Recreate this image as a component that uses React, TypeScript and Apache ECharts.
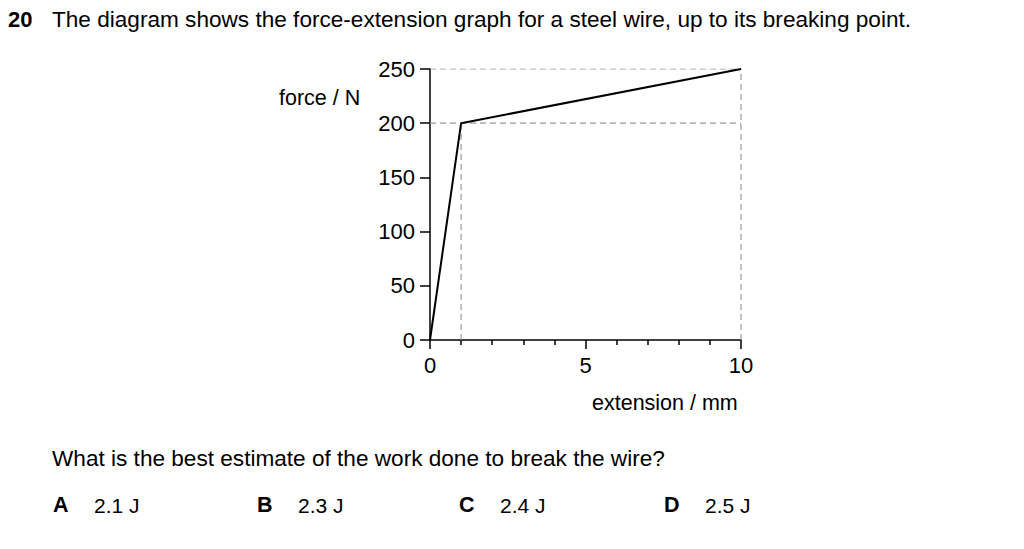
import React, { useEffect, useRef } from "react";
import * as echarts from "echarts";

const extension = [0, 1, 10];
const force = [0, 200, 250];
const guideH250 = [[0, 250], [10, 250]];
const guideH200 = [[0, 200], [10, 200]];
const guideV1 = [[1, 0], [1, 200]];
const guideV10 = [[10, 0], [10, 250]];
const xTicks = [0, 5, 10];
const yTicks = [0, 50, 100, 150, 200, 250];

const title = "The diagram shows the force-extension graph for a steel wire, up to its breaking point.";
const question = "What is the best estimate of the work done to break the wire?";
const optionLetters = ["A", "B", "C", "D"];
const optionValues = ["2.1 J", "2.3 J", "2.4 J", "2.5 J"];

const FONT = "'Liberation Sans', Arial, Helvetica, sans-serif";

export default function App() {
  const ref = useRef<HTMLDivElement>(null);
  useEffect(() => {
    if (!ref.current) return;
    const chart = echarts.init(ref.current, null, { renderer: "svg" });
    const dashed = {
      type: "line",
      showSymbol: false,
      symbol: "none",
      silent: true,
      lineStyle: { color: "#9a9a9a", width: 1.2, type: [6, 4] },
      z: 1,
    };
    const txt = (x: number, y: number, text: string, size: number, bold = false) => ({
      type: "text",
      x,
      y,
      style: {
        text,
        font: `${bold ? "bold " : ""}${size}px ${FONT}`,
        fill: "#000",
        verticalAlign: "middle",
        align: "left",
      },
    });
    const optX = [53, 257, 459, 664];
    const graphics: any[] = [
      txt(8, 19, "20", 22, true),
      txt(52, 19, title, 22.6),
      txt(279, 98, "force / N", 21.5),
      txt(592, 403, "extension / mm", 21.5),
      txt(52, 458, question, 22.6),
    ];
    optionLetters.forEach((l, i) => {
      graphics.push(txt(optX[i], 505, l, 21.5, true));
      graphics.push(txt(optX[i] + 41, 505, optionValues[i], 21));
    });
    chart.setOption({
      animation: false,
      grid: { left: 430, right: 283, top: 69, bottom: 209, containLabel: false },
      xAxis: {
        type: "value",
        min: 0,
        max: 10,
        interval: 5,
        axisLine: { show: true, onZero: false, lineStyle: { color: "#000", width: 1.5 } },
        axisTick: { show: true, length: 9, lineStyle: { color: "#000", width: 1.5 } },
        minorTick: { show: true, splitNumber: 5, length: 5, lineStyle: { color: "#000", width: 1.5 } },
        splitLine: { show: false },
        axisLabel: {
          color: "#000",
          fontSize: 22,
          fontFamily: FONT,
          margin: 14,
          formatter: (v: number) => (xTicks.includes(v) ? String(v) : ""),
        },
      },
      yAxis: {
        type: "value",
        min: 0,
        max: 250,
        interval: 50,
        axisLine: { show: true, onZero: false, lineStyle: { color: "#000", width: 1.5 } },
        axisTick: { show: true, length: 10, lineStyle: { color: "#000", width: 1.5 } },
        splitLine: { show: false },
        axisLabel: {
          color: "#000",
          fontSize: 22,
          fontFamily: FONT,
          margin: 15,
          formatter: (v: number) => (yTicks.includes(v) ? String(v) : ""),
        },
      },
      series: [
        { ...dashed, data: guideH250 },
        { ...dashed, data: guideH200 },
        { ...dashed, data: guideV1 },
        { ...dashed, data: guideV10 },
        {
          type: "line",
          data: extension.map((x, i) => [x, force[i]]),
          showSymbol: false,
          symbol: "none",
          lineStyle: { color: "#000", width: 2 },
          z: 3,
        },
      ],
      graphic: graphics,
    });
    return () => chart.dispose();
  }, []);
  return (
    <div
      ref={ref}
      style={{ position: "fixed", left: 0, top: 0, width: 1024, height: 549, background: "#fff" }}
    />
  );
}
